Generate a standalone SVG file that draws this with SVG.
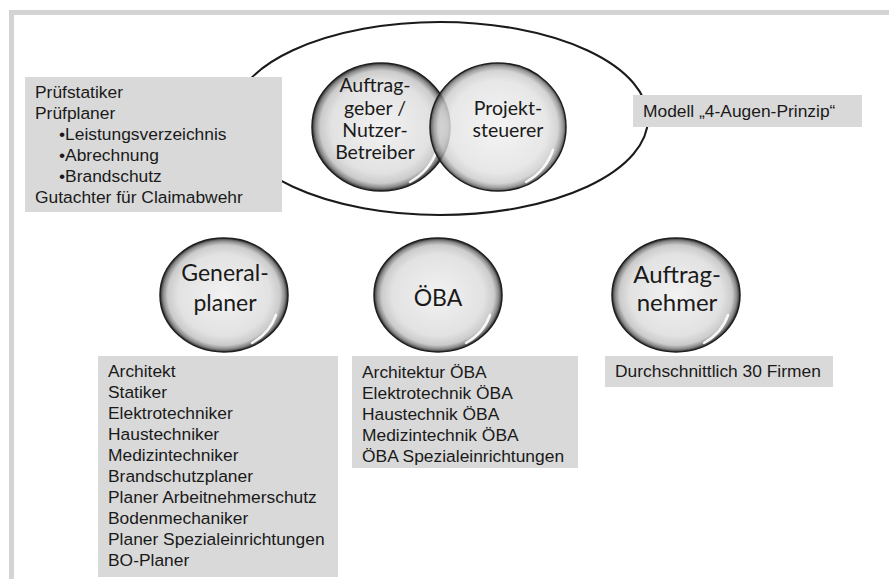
<svg xmlns="http://www.w3.org/2000/svg" width="889" height="579" viewBox="0 0 889 579">
<defs>
<radialGradient id="sphere" cx="50%" cy="50%" r="50%">
<stop offset="0%" stop-color="#f2f2f2"/>
<stop offset="72%" stop-color="#e2e2e2"/>
<stop offset="88%" stop-color="#cbcbcb"/>
<stop offset="95%" stop-color="#8a8a8a"/>
<stop offset="100%" stop-color="#2e2e2e"/>
</radialGradient>
<style>
.frame{fill:none;stroke:#d4d4d4;stroke-width:5}
.box{fill:#d9d9d9}
.lst{font-family:"Liberation Sans",Arial,sans-serif;font-size:17.4px;fill:#1a1a1a}
.ball{fill:url(#sphere);stroke:#1e1e1e;stroke-width:1.5}
.hl{fill:none;stroke:#ffffff;stroke-width:2.5;stroke-linecap:round;opacity:0.9}
.ct{font-family:Lato,"Open Sans",sans-serif;fill:#1a1a1a;text-anchor:middle}
.ring{fill:none;stroke:#1a1a1a;stroke-width:2}
</style>
</defs>
<rect class="frame" x="11.5" y="12.5" width="900" height="600"/>
<g id="connectors"></g>
<g id="model-ellipse">
<ellipse class="ring" cx="440" cy="118.5" rx="208" ry="96.5"/>
</g>
<g id="auftraggeber">
<ellipse class="ball" cx="381" cy="127" rx="69" ry="64"/>
<path class="hl" d="M437,150 A62,58 0 0 1 410,182"/>
<text class="ct" font-size="19.5" x="375" y="92">Auftrag-</text>
<text class="ct" font-size="19.5" x="375" y="115">geber /</text>
<text class="ct" font-size="19.5" x="375" y="137">Nutzer-</text>
<text class="ct" font-size="19.5" x="375" y="159">Betreiber</text>
</g>
<g id="projektsteuerer">
<ellipse class="ball" cx="498" cy="127" rx="68" ry="64" fill-opacity="0.82"/>
<path class="hl" d="M553,150 A62,58 0 0 1 526,182"/>
<text class="ct" font-size="19.5" x="508" y="115">Projekt-</text>
<text class="ct" font-size="19.5" x="508" y="137">steuerer</text>
</g>
<g id="pruef-box">
<rect class="box" x="25" y="77" width="257" height="135"/>
<text class="lst" x="35" y="98">Prüfstatiker</text>
<text class="lst" x="35" y="119">Prüfplaner</text>
<text class="lst" x="59" y="140">•Leistungsverzeichnis</text>
<text class="lst" x="59" y="161">•Abrechnung</text>
<text class="lst" x="59" y="182">•Brandschutz</text>
<text class="lst" x="35" y="203">Gutachter für Claimabwehr</text>
</g>
<g id="modell-box">
<rect class="box" x="633" y="95" width="229" height="32"/>
<text class="lst" x="643" y="117">Modell „4-Augen-Prinzip“</text>
</g>
<g id="generalplaner">
<ellipse class="ball" cx="224" cy="295" rx="64" ry="57"/>
<path class="hl" d="M276,315 A58,50 0 0 1 252,343"/>
<text class="ct" font-size="23" x="225" y="281">General-</text>
<text class="ct" font-size="23" x="225" y="311">planer</text>
</g>
<g id="oeba">
<ellipse class="ball" cx="438" cy="295" rx="64" ry="57"/>
<path class="hl" d="M490,315 A58,50 0 0 1 466,343"/>
<text class="ct" font-size="23" x="438" y="306">ÖBA</text>
</g>
<g id="auftragnehmer">
<ellipse class="ball" cx="676" cy="295" rx="64" ry="57"/>
<path class="hl" d="M728,315 A58,50 0 0 1 704,343"/>
<text class="ct" font-size="24" x="677" y="283">Auftrag-</text>
<text class="ct" font-size="24" x="677" y="311">nehmer</text>
</g>
<g id="gp-box">
<rect class="box" x="98" y="356" width="240" height="221"/>
<text class="lst" x="108" y="377">Architekt</text>
<text class="lst" x="108" y="398">Statiker</text>
<text class="lst" x="108" y="419">Elektrotechniker</text>
<text class="lst" x="108" y="440">Haustechniker</text>
<text class="lst" x="108" y="461">Medizintechniker</text>
<text class="lst" x="108" y="482">Brandschutzplaner</text>
<text class="lst" x="108" y="503">Planer Arbeitnehmerschutz</text>
<text class="lst" x="108" y="524">Bodenmechaniker</text>
<text class="lst" x="108" y="545">Planer Spezialeinrichtungen</text>
<text class="lst" x="108" y="566">BO-Planer</text>
</g>
<g id="oeba-box">
<rect class="box" x="352" y="356" width="226" height="112"/>
<text class="lst" x="362" y="378">Architektur ÖBA</text>
<text class="lst" x="362" y="399">Elektrotechnik ÖBA</text>
<text class="lst" x="362" y="420">Haustechnik ÖBA</text>
<text class="lst" x="362" y="441">Medizintechnik ÖBA</text>
<text class="lst" x="362" y="462">ÖBA Spezialeinrichtungen</text>
</g>
<g id="an-box">
<rect class="box" x="605" y="356" width="228" height="31"/>
<text class="lst" x="615" y="377">Durchschnittlich 30 Firmen</text>
</g>
</svg>
